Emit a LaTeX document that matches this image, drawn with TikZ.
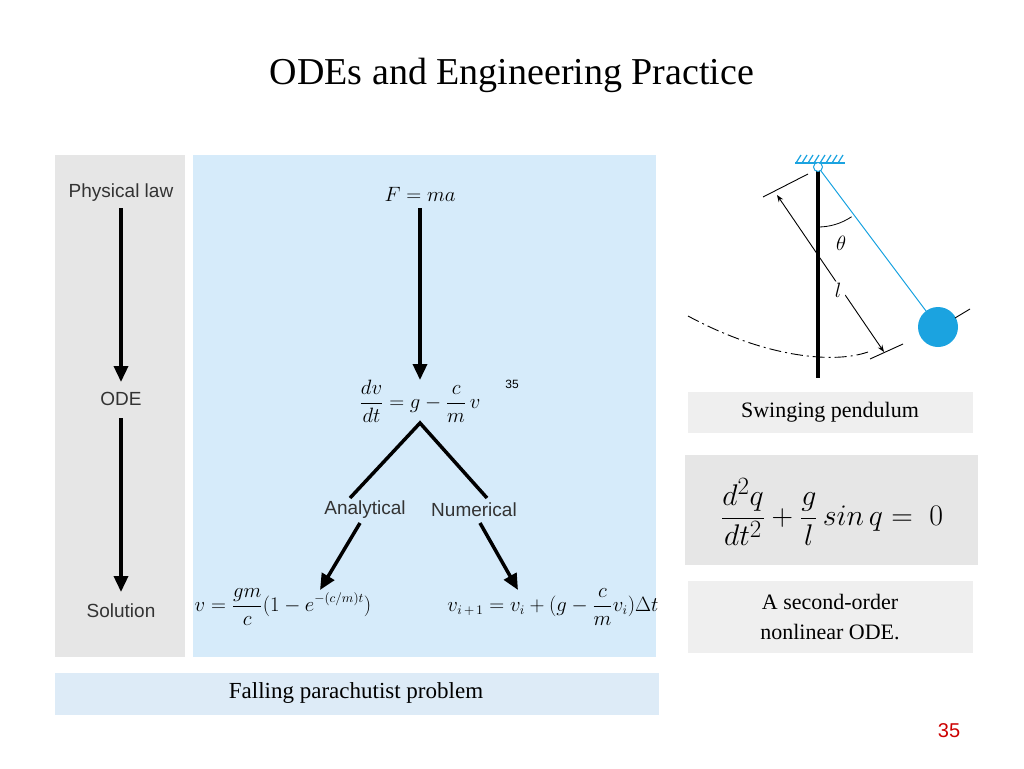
\documentclass[tikz,border=0pt]{standalone}
\usepackage{fontspec}
\setmainfont{Liberation Serif}
\newfontfamily\lsans{Liberation Sans}
\usetikzlibrary{arrows.meta}
\definecolor{gp}{HTML}{E6E6E6}
\definecolor{bp}{HTML}{D6EBFA}
\definecolor{bb}{HTML}{DDEBF7}
\definecolor{lb}{HTML}{EFEFEF}
\definecolor{pb}{HTML}{1BA3E0}
\tikzset{lbl/.style={font=\lsans\fontsize{19}{22}\selectfont,text=black!80},
 bigarrow/.style={line width=3.5pt,-{Triangle[length=16pt,width=14pt]}},
 eq/.style={font=\fontsize{16}{19}\selectfont,scale=1.2,transform shape}}
\begin{document}
\begin{tikzpicture}[x=1pt,y=-1pt]
\useasboundingbox (0,0) rectangle (1024,768);
\node (title) at (512,75) {\fontsize{38}{44}\selectfont ODEs and Engineering Practice};
\fill[gp] (55,155) rectangle (185,657);
\fill[bp] (193,155) rectangle (656,657);
\fill[bb] (55,673) rectangle (659,715);
\node (fp) at (356,693) {\fontsize{23}{26}\selectfont Falling parachutist problem};
% left column
\node[lbl] (pl) at (121,193) {Physical law};
\node[lbl] (ode) at (121,399) {ODE};
\node[lbl] (sol) at (121,611) {Solution};
\draw[bigarrow] (121,208) -- (121,382);
\draw[bigarrow] (121,418) -- (121,592);
% blue column
\node[eq] (F) at (420,194) {$F = ma$};
\node[eq] (dv) at (420,401) {$\displaystyle\frac{dv}{dt} = g - \frac{c}{m}\,v$};
\node[font=\lsans\fontsize{12}{14}\selectfont] (n35) at (512,384) {35};
\draw[bigarrow] (420,208) -- (420,380);
\coordinate (apex) at (420,423);
\draw[line width=3.5pt,line join=miter] (350,498) -- (apex) -- (487,498);
\node[lbl] (an) at (365,510) {Analytical};
\node[lbl] (nu) at (474,510) {Numerical};
\node[eq] (s1) at (283,607) {$v = \displaystyle\frac{gm}{c}\Bigl(1 - e^{-(c/m)t}\Bigr)$};
\node[eq] (s2) at (553,607) {$v_{i\,+\,1} = v_i + (g - \displaystyle\frac{c}{m}v_i)\Delta t$};
\draw[bigarrow] (360,523) -- (320,590);
\draw[bigarrow] (480,523) -- (518,590);
% pendulum
\draw[pb,line width=1.5pt] (795,163) -- (845,163);
\foreach \i in {0,...,7} \draw[pb,line width=1.2pt] (796+6*\i,163) -- (801+6*\i,155);
\draw[line width=4pt] (818,168) -- (818,378);
\coordinate (bob) at (938,327);
\draw[pb,line width=1pt] (818,167) -- (bob);
\fill[pb] (bob) circle (20);
\draw[pb,fill=white,line width=1pt] (818,167) circle (4.5);
\draw[line width=0.8pt] (818,227) arc[start angle=90,end angle=56,radius=60];
\node (th) at (841,243) {\fontsize{20}{22}\selectfont$\theta$};
\draw[dash pattern=on 12pt off 4pt on 2pt off 4pt,line width=0.9pt] (688,316) .. controls (760,355) and (830,365) .. (868,352);
\draw[line width=0.9pt] (763,197) -- (808,174);
\draw[line width=0.9pt] (870,359) -- (903,344);
\draw[line width=0.9pt] (955,318) -- (970,309);
\draw[line width=0.9pt,{Stealth[length=7pt]}-{Stealth[length=7pt]}] (777,195) -- (884,352);
\fill[white] (838,290) circle (9);
\node (l) at (838,290) {\fontsize{22}{24}\selectfont$l$};
% right boxes
\fill[lb] (688,392) rectangle (973,433);
\node (sw) at (830,412) {\fontsize{22}{25}\selectfont Swinging pendulum};
\fill[gp] (685,455) rectangle (978,565);
\node[scale=1.2,transform shape] (ode2) at (832,512) {\fontsize{32}{36}\selectfont $\displaystyle\frac{d^2q}{dt^2} + \frac{g}{l}\,sin\,q = \;0$};
\fill[lb] (688,581) rectangle (973,653);
\node[align=center,font=\fontsize{22}{30}\selectfont] (so) at (830,617) {A second-order\\ nonlinear ODE.};
\node[text=red!80!black,font=\lsans\fontsize{20}{22}\selectfont] (pg) at (949,731) {35};
\end{tikzpicture}
\end{document}
